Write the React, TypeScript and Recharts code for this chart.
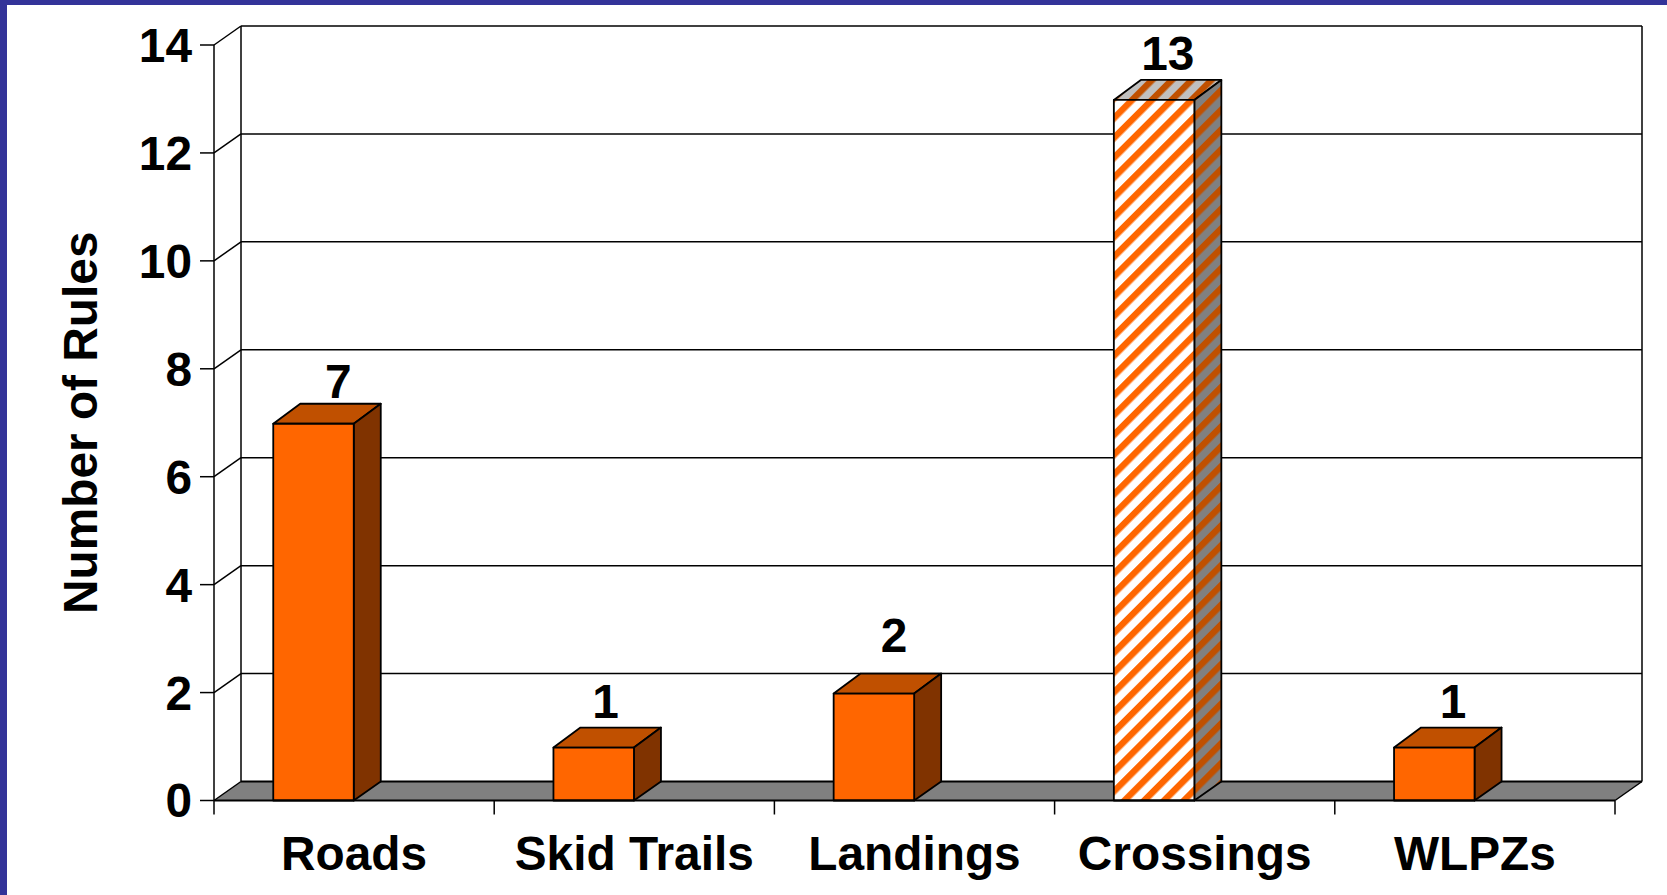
import { BarChart, Bar, XAxis, YAxis, CartesianGrid, LabelList, Label } from "recharts";

const categories = ["Roads", "Skid Trails", "Landings", "Crossings", "WLPZs"];
const ruleCounts = [7, 1, 2, 13, 1];
const yTicks = [0, 2, 4, 6, 8, 10, 12, 14];
const hatchedCategory = "Crossings";

const data = categories.map((name, i) => ({ name, rules: ruleCounts[i] }));

const WIDTH = 1667;
const HEIGHT = 895;
const PLOT_TOP = 45;
const PLOT_BOTTOM = 800.5;
const PLOT_LEFT = 214;
const PLOT_RIGHT = 1615;
const BAND = (PLOT_RIGHT - PLOT_LEFT) / categories.length;
const DEPTH_X = 27;
const DEPTH_Y = 19;
const FONT = "Arial, 'Liberation Sans', sans-serif";
const FONT_SIZE = 47.8;

// value labels in the original sit a bit unevenly over the boxes
const labelNudgeX = [-16, -29, -20.6, -27, -22];
const labelLift = [24.7, 29, 41, 29, 29];

function Box3D(props: any) {
  const { x, y, width, height, index } = props;
  const hatched = categories[index] === hatchedCategory;
  const left = x + width / 2 - 81;
  const right = left + width;
  const bottom = y + height;
  const top = y + 1;
  const backTop = top - 20;
  const line = { stroke: "#000", strokeWidth: 1.8, strokeLinejoin: "round" as const };
  return (
    <g>
      <polygon
        points={`${left},${top} ${left + DEPTH_X},${backTop} ${right + DEPTH_X},${backTop} ${right},${top}`}
        fill={hatched ? "url(#hatchTop)" : "#C05000"}
        {...line}
      />
      <polygon
        points={`${right},${top} ${right + DEPTH_X},${backTop} ${right + DEPTH_X},${bottom - DEPTH_Y} ${right},${bottom}`}
        fill={hatched ? "url(#hatchSide)" : "#803300"}
        {...line}
      />
      <rect x={left} y={top} width={width} height={bottom - top} fill={hatched ? "url(#hatchFront)" : "#FF6600"} {...line} />
    </g>
  );
}

function GridLine(props: any) {
  const { x1, x2, y1 } = props;
  const backY = y1 - DEPTH_Y;
  const line = { stroke: "#000", strokeWidth: 1.5 };
  if (Math.abs(y1 - PLOT_BOTTOM) < 1) {
    return (
      <g>
        <polygon
          points={`${x1},${y1} ${x1 + DEPTH_X},${backY} ${x2 + DEPTH_X},${backY} ${x2},${y1}`}
          fill="#808080"
        />
        <line x1={x1} y1={y1} x2={x1 + DEPTH_X} y2={backY} {...line} />
        <line x1={x1 + DEPTH_X} y1={backY} x2={x2 + DEPTH_X} y2={backY} stroke="#000" strokeWidth={2} />
        <line x1={x2} y1={y1} x2={x2 + DEPTH_X} y2={backY} {...line} />
        <line x1={x1 + DEPTH_X} y1={PLOT_TOP - DEPTH_Y} x2={x1 + DEPTH_X} y2={backY} {...line} />
        <line x1={x2 + DEPTH_X} y1={PLOT_TOP - DEPTH_Y} x2={x2 + DEPTH_X} y2={backY} {...line} />
      </g>
    );
  }
  return (
    <g>
      <line x1={x1} y1={y1} x2={x1 + DEPTH_X} y2={backY} {...line} />
      <line x1={x1 + DEPTH_X} y1={backY} x2={x2 + DEPTH_X} y2={backY} {...line} />
    </g>
  );
}

function CategoryTick(props: any) {
  const { x, payload, index } = props;
  return (
    <g>
      <line x1={x - BAND / 2} y1={PLOT_BOTTOM} x2={x - BAND / 2} y2={PLOT_BOTTOM + 14} stroke="#000" strokeWidth={1.5} />
      {index === categories.length - 1 && (
        <line x1={x + BAND / 2} y1={PLOT_BOTTOM} x2={x + BAND / 2} y2={PLOT_BOTTOM + 14} stroke="#000" strokeWidth={1.5} />
      )}
      <text x={x} y={870} textAnchor="middle" fontFamily={FONT} fontWeight="bold" fontSize={FONT_SIZE} fill="#000">
        {payload.value}
      </text>
    </g>
  );
}

function ValueLabel(props: any) {
  const { x, y, width, value, index } = props;
  return (
    <text
      x={x + width / 2 + labelNudgeX[index]}
      y={y - labelLift[index]}
      textAnchor="middle"
      fontFamily={FONT}
      fontWeight="bold"
      fontSize={FONT_SIZE}
      fill="#000"
    >
      {value}
    </text>
  );
}

function Hatch({ id, bg, fg }: { id: string; bg: string; fg: string }) {
  return (
    <pattern id={id} patternUnits="userSpaceOnUse" width={14} height={14} patternTransform="rotate(-45)">
      <rect width={14} height={14} fill={bg} />
      <rect width={14} height={6.5} fill={fg} />
    </pattern>
  );
}

export default function App() {
  return (
    <div
      style={{
        position: "absolute",
        left: 0,
        top: 0,
        width: WIDTH,
        height: HEIGHT,
        background: "#fff",
        overflow: "hidden",
      }}
    >
      <BarChart
        width={WIDTH}
        height={HEIGHT}
        data={data}
        margin={{ top: PLOT_TOP, right: WIDTH - PLOT_RIGHT, bottom: 0, left: PLOT_LEFT - 130 }}
        barSize={80.5}
      >
        <defs>
          <Hatch id="hatchFront" bg="#FFFFFF" fg="#FF6600" />
          <Hatch id="hatchTop" bg="#C0C0C0" fg="#C05000" />
          <Hatch id="hatchSide" bg="#808080" fg="#C05000" />
        </defs>
        <CartesianGrid horizontal={GridLine} vertical={false} />
        <XAxis
          dataKey="name"
          height={HEIGHT - PLOT_BOTTOM}
          interval={0}
          tick={CategoryTick}
          tickLine={false}
          axisLine={{ stroke: "#000", strokeWidth: 2 }}
        />
        <YAxis
          width={130}
          domain={[0, 14]}
          ticks={yTicks}
          interval={0}
          tickSize={14}
          tickMargin={8}
          tick={{ fontFamily: FONT, fontWeight: "bold", fontSize: FONT_SIZE, fill: "#000" }}
          tickLine={{ stroke: "#000", strokeWidth: 1.5 }}
          axisLine={{ stroke: "#000", strokeWidth: 1.5 }}
        >
          <Label
            value="Number of Rules"
            angle={-90}
            position="insideLeft"
            offset={-4}
            textAnchor="middle"
            fontFamily={FONT}
            fontWeight="bold"
            fontSize={FONT_SIZE}
            fill="#000"
          />
        </YAxis>
        <Bar dataKey="rules" shape={Box3D} isAnimationActive={false}>
          <LabelList dataKey="rules" content={ValueLabel} />
        </Bar>
      </BarChart>
      <div style={{ position: "absolute", left: 0, top: 0, width: WIDTH, height: 5, background: "#333399" }} />
      <div style={{ position: "absolute", left: 0, top: 0, width: 7, height: HEIGHT, background: "#333399" }} />
    </div>
  );
}
